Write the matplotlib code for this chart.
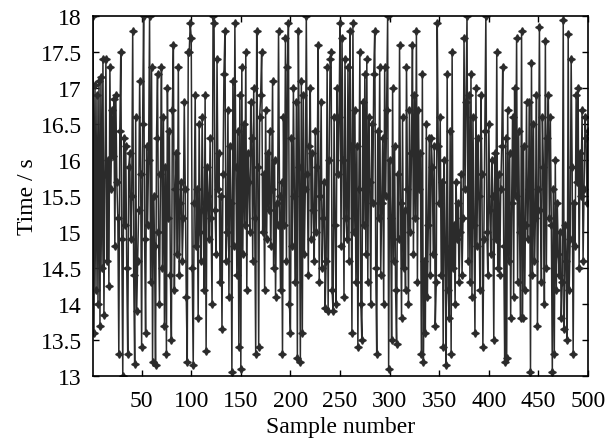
import numpy as np
import matplotlib
matplotlib.use("Agg")
import matplotlib.pyplot as plt

# Time per sample (samples 1..500)
times = [
    18.0, 13.6, 17.05, 14.2, 16.9, 14.0, 17.1, 13.7, 17.15, 14.5,
    17.4, 13.85, 15.8, 17.4, 14.6, 16.0, 14.25, 17.3, 15.6, 16.7,
    16.05, 16.85, 14.8, 16.9, 15.7, 15.2, 13.3, 16.4, 17.5, 14.9,
    13.0, 16.3, 15.1, 16.2, 14.5, 13.3, 15.9, 16.1, 14.9, 15.5,
    17.8, 14.4, 13.17, 16.6, 13.9, 14.6, 15.3, 17.1, 15.8, 13.4,
    16.5, 18.0, 14.9, 13.6, 16.2, 15.1, 16.0, 18.0, 14.3, 17.3,
    13.2, 15.5, 14.8, 13.15, 16.3, 17.2, 15.0, 14.0, 15.8, 17.3,
    14.5, 16.6, 13.7, 15.9, 13.3, 17.0, 15.2, 16.4, 14.4, 13.5,
    16.7, 17.6, 14.2, 15.6, 16.1, 14.7, 17.3, 14.4, 15.4, 15.7,
    14.6, 15.2, 16.8, 15.6, 14.1, 13.2, 17.5, 17.5, 17.9, 17.7,
    14.5, 13.15, 15.4, 16.9, 14.8, 15.6, 13.8, 16.5, 15.0, 14.6,
    16.6, 15.3, 14.2, 16.9, 13.35, 15.9, 15.5, 14.9, 16.3, 15.2,
    14.0, 18.0, 17.9, 15.3, 14.7, 17.4, 15.6, 16.1, 14.3, 15.5,
    13.65, 15.8, 17.2, 17.8, 14.6, 15.0, 16.7, 14.1, 16.2, 15.4,
    13.05, 17.1, 14.8, 17.9, 15.9, 14.4, 16.4, 13.4, 16.9, 13.1,
    17.3, 14.7, 16.5, 15.1, 17.5, 14.2, 16.1, 15.7, 15.0, 16.8,
    16.3, 14.6, 17.0, 15.2, 13.3, 17.8, 15.9, 13.4, 16.6, 16.9,
    17.5, 15.0, 15.8, 14.2, 16.7, 14.9, 16.1, 15.3, 16.4, 14.8,
    15.6, 17.1, 14.5, 16.0, 14.1, 15.4, 15.1, 17.8, 15.5, 14.2,
    15.7, 13.3, 16.6, 15.1, 17.7, 14.6, 17.3, 17.9, 14.0, 13.6,
    16.3, 14.8, 17.0, 15.5, 14.3, 16.8, 13.25, 17.8, 15.9, 13.2,
    17.1, 13.6, 16.9, 14.7, 15.6, 18.0, 15.8, 14.4, 16.2, 17.0,
    14.9, 16.1, 15.3, 14.6, 16.4, 15.0, 15.9, 17.6, 14.3, 15.5,
    16.8, 14.5, 15.2, 15.7, 13.95, 14.6, 17.3, 13.9, 16.0, 17.4,
    17.5, 14.2, 13.9, 16.6, 15.1, 14.0, 17.0, 15.8, 16.6, 17.9,
    14.8, 17.7, 16.0, 14.1, 17.4, 15.2, 14.9, 17.3, 14.6, 17.8,
    16.2, 13.6, 17.9, 15.0, 16.7, 14.3, 16.2, 13.4, 15.6, 17.5,
    14.0, 13.5, 16.8, 15.1, 17.2, 14.7, 17.4, 14.3, 16.6, 15.7,
    14.0, 16.5, 15.4, 17.2, 17.8, 14.5, 13.3, 16.4, 15.2, 17.3,
    14.4, 15.4, 16.3, 14.0, 17.3, 15.5, 16.7, 18.0, 13.1, 16.0,
    15.2, 13.5, 17.0, 14.6, 16.2, 14.2, 13.45, 15.8, 14.9, 17.6,
    15.4, 13.8, 16.6, 14.5, 15.3, 14.2, 17.3, 15.6, 14.0, 16.7,
    15.0, 16.1, 17.6, 14.7, 16.9, 15.2, 17.8, 14.3, 16.7, 15.6,
    16.1, 13.3, 17.2, 13.2, 14.6, 13.6, 16.5, 14.1, 15.1, 16.3,
    14.4, 16.3, 15.9, 14.7, 16.2, 13.7, 14.3, 17.9, 16.2, 15.4,
    16.6, 14.4, 15.7, 13.4, 16.0, 14.8, 13.15, 17.2, 14.2, 13.8,
    16.4, 13.3, 17.5, 14.5, 15.1, 14.0, 15.7, 14.9, 15.4, 14.3,
    15.0, 15.8, 14.4, 15.2, 17.7, 15.6, 16.8, 18.0, 14.6, 16.9,
    14.3, 17.2, 14.1, 16.6, 15.1, 13.6, 17.0, 14.8, 16.3, 15.5,
    14.2, 16.9, 15.8, 13.4, 14.9, 16.4, 18.0, 15.0, 14.4, 16.5,
    15.3, 14.7, 16.0, 15.5, 13.5, 16.1, 14.9, 17.5, 14.5, 15.8,
    14.4, 15.6, 16.2, 17.3, 14.8, 13.2, 16.3, 13.25, 16.7, 14.6,
    16.1, 13.8, 15.4, 16.6, 14.1, 17.0, 15.5, 17.7, 14.3, 16.4,
    15.0, 13.8, 17.8, 13.8, 16.2, 14.2, 15.1, 16.8, 14.9, 15.6,
    16.8, 13.05, 17.35, 14.4, 16.5, 14.6, 15.2, 16.9, 13.7, 15.6,
    17.85, 15.3, 14.3, 16.6, 15.9, 14.0, 17.65, 14.5, 16.3, 16.9,
    15.2, 16.6, 15.1, 13.05, 15.6, 13.3, 16.0, 14.2, 15.4, 14.7,
    14.4, 15.0, 13.8, 14.3, 17.95, 13.65, 15.1, 14.6, 13.5, 17.75,
    14.2, 14.9, 17.4, 15.9, 13.3, 15.4, 14.8, 16.9, 15.7, 17.0,
    14.5, 16.1, 15.5, 16.7, 14.6, 15.6, 16.6, 16.3, 15.4, 16.4,
]
samples = np.arange(1, len(times) + 1)

x_ticks = [50, 100, 150, 200, 250, 300, 350, 400, 450, 500]
y_ticks = [13, 13.5, 14, 14.5, 15, 15.5, 16, 16.5, 17, 17.5, 18]

plt.rcParams["font.family"] = ["Liberation Serif", "DejaVu Serif"]
plt.rcParams["font.size"] = 17

fig = plt.figure(figsize=(6.14, 4.39), dpi=100)
ax = fig.add_axes([0.1515, 0.1412, 0.8062, 0.8198])

ax.plot(samples, times, color="#2b2b2b", lw=1.1,
        marker=(4, 1, 0), ms=5.5, mec="#2b2b2b", mfc="#2b2b2b")

ax.set_xlim(1, 500)
ax.set_ylim(13, 18)
ax.set_xticks(x_ticks)
ax.set_yticks(y_ticks)
ax.set_yticklabels([f"{v:g}" for v in y_ticks])
ax.tick_params(direction="in", top=True, right=True, length=4, width=1)
ax.tick_params(axis="x", pad=10)
ax.tick_params(axis="y", pad=8)
for s in ax.spines.values():
    s.set_linewidth(1.2)

ax.set_xlabel("Sample number", labelpad=4)
ax.set_ylabel("Time / s", labelpad=2)

fig.savefig("out.png", dpi=100)
